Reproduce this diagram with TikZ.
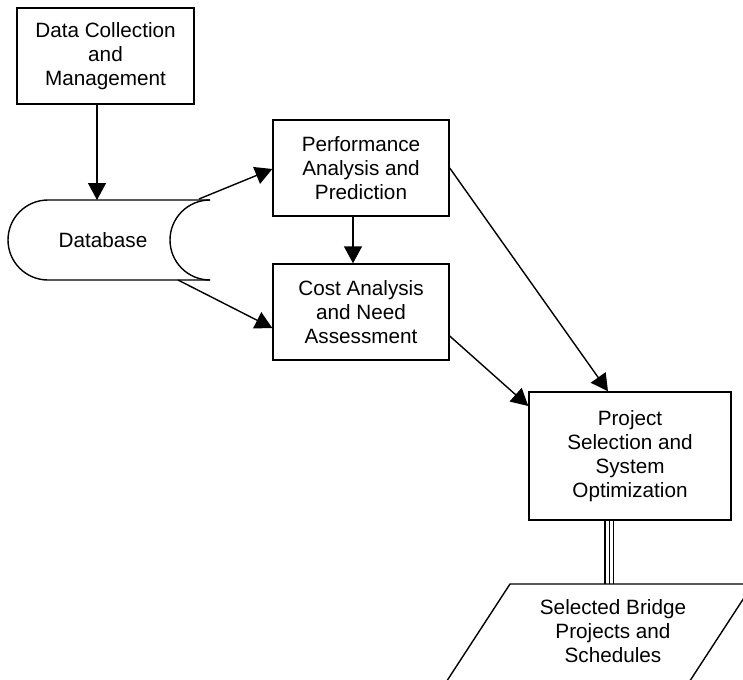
\documentclass[tikz,border=0pt]{standalone}
\usepackage{fontspec}
\setmainfont{Liberation Sans}
\usetikzlibrary{arrows.meta}
\begin{document}
\begin{tikzpicture}[x=1pt,y=-1pt,
  every node/.style={font=\fontsize{20.7}{23.8}\selectfont, align=center, inner sep=0pt},
  box/.style={draw, line width=1.4pt, fill=white},
  conn/.style={line width=1.4pt, -{Triangle[length=17pt,width=18pt]}},
  line/.style={line width=1.4pt}]
\useasboundingbox (0,0) rectangle (743,679);
% boxes
\node[box, minimum width=177pt, minimum height=96pt] (dc) at (105.5,56) {Data Collection\\and\\Management};
\node[box, minimum width=176pt, minimum height=96pt] (pa) at (361,168) {Performance\\Analysis and\\Prediction};
\node[box, minimum width=176pt, minimum height=96pt] (ca) at (361,312) {Cost Analysis\\and Need\\Assessment};
\node[box, minimum width=202pt, minimum height=128pt] (ps) at (630,456) {Project\\Selection and\\System\\Optimization};
% database
\draw[line] (210,200) -- (48,200) arc[start angle=270,end angle=90,radius=40] -- (210,280);
\draw[line] (210,200) arc[start angle=270,end angle=90,radius=40];
\node (db) at (103,240) {Database};
\coordinate (dbtop) at (97,200);
\coordinate (dbtr) at (199,199);
\coordinate (dbbr) at (178,280);
% output parallelogram
\begin{scope}
\clip (0,0) rectangle (743,679);
\draw[line] (439,693) -- (510,584) -- (770,584);
\draw[line] (753,584) -- (682,693);
\end{scope}
\node (out) at (613,631) {Selected Bridge\\Projects and\\Schedules};
\coordinate (outtop) at (609.3,584);
% connectors
\draw[conn] (dc.south -| dbtop) -- (dbtop);
\draw[conn] (dbtr) -- (pa.west |- 0,169);
\draw[conn] (dbbr) -- (ca.west |- 0,328);
\draw[conn] (pa.south -| 353,0) -- (ca.north -| 353,0);
\draw[conn] (pa.east) -- (ps.north -| 608,0);
\draw[conn] (ca.east |- 0,336) -- (ps.west |- 0,406);
\foreach \dx in {-4.3,0,4} {
  \draw[line width=1.3pt] ([xshift=\dx pt]ps.south -| outtop) -- ([xshift=\dx pt]outtop);
}
\end{tikzpicture}
\end{document}
